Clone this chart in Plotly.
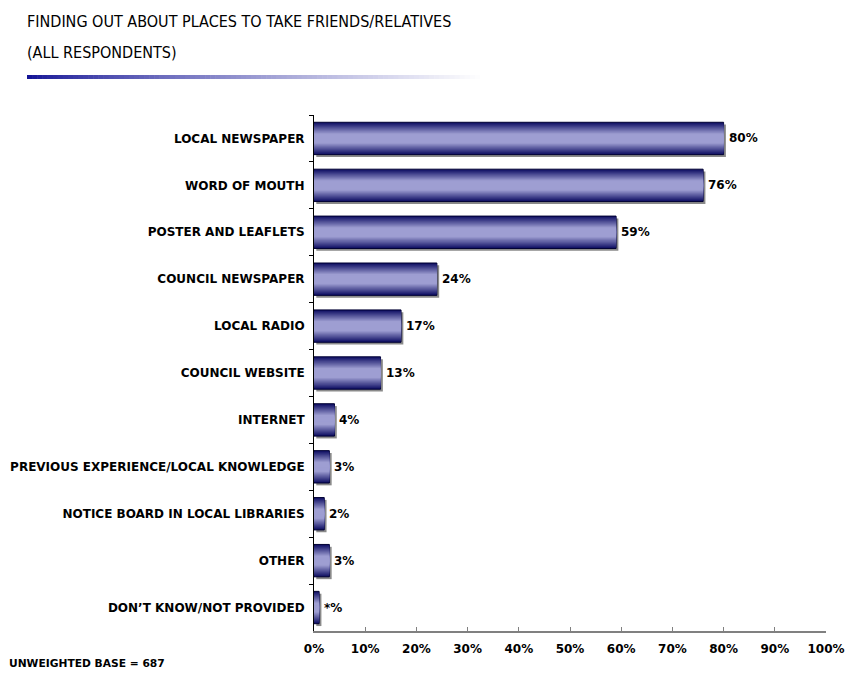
import plotly.graph_objects as go

# Survey answers and their shares (%)
categories = [
    "LOCAL NEWSPAPER",
    "WORD OF MOUTH",
    "POSTER AND LEAFLETS",
    "COUNCIL NEWSPAPER",
    "LOCAL RADIO",
    "COUNCIL WEBSITE",
    "INTERNET",
    "PREVIOUS EXPERIENCE/LOCAL KNOWLEDGE",
    "NOTICE BOARD IN LOCAL LIBRARIES",
    "OTHER",
    "DON\u2019T KNOW/NOT PROVIDED",
]
values = [80, 76, 59, 24, 17, 13, 4, 3, 2, 3, 1]
value_labels = ["80%", "76%", "59%", "24%", "17%", "13%", "4%", "3%", "2%", "3%", "*%"]
x_ticks = [0, 10, 20, 30, 40, 50, 60, 70, 80, 90, 100]
x_tick_text = [f"{v}%" for v in x_ticks]
title_lines = ["FINDING OUT ABOUT PLACES TO TAKE FRIENDS/RELATIVES", "(ALL RESPONDENTS)"]

W, H = 846, 676
ML, MR, MT, MB = 314, 20, 115, 45
PW, PH = W - ML - MR, H - MT - MB

FONT = "DejaVu Sans"
TITLE_FONT = "DejaVu Sans Condensed, Roboto, Liberation Sans"
BAR_W = 0.69


def lerp(c1, c2, t):
    return "rgb(%d,%d,%d)" % tuple(round(a + (b - a) * t) for a, b in zip(c1, c2))


def px_x(px):
    return (px - ML) / PW


def px_y(py):
    return (H - MB - py) / PH


fig = go.Figure()

# drop shadow behind each bar
fig.add_trace(go.Bar(
    y=categories, x=values, base=0.45, orientation="h",
    width=BAR_W, offset=-BAR_W / 2 + 0.05,
    marker=dict(color="#8a8a8a", line=dict(width=0)),
    hoverinfo="skip", showlegend=False,
))

# stacked bands of narrowing width give each bar a vertical gradient
dark = (16, 16, 100)
light = (158, 158, 210)
n_layers = 16
for k in range(n_layers):
    t = k / (n_layers - 1)
    f = min(1.0, t * 1.35)
    w = BAR_W * (1 - k / n_layers)
    is_outer = k == 0
    fig.add_trace(go.Bar(
        y=categories, x=values, orientation="h",
        width=w, offset=-w / 2,
        marker=dict(
            color=lerp(dark, light, f),
            line=dict(width=1 if is_outer else 0, color="#000033"),
        ),
        hoverinfo="skip", showlegend=False,
    ))

# value labels just past the end of each bar
for cat, val, lab in zip(categories, values, value_labels):
    fig.add_annotation(
        x=val, y=cat, xref="x", yref="y",
        xanchor="left", yanchor="middle", xshift=3,
        showarrow=False, text=lab,
        font=dict(family=FONT, size=12, color="black", weight="bold"),
    )

# fading rule under the heading
x0, x1 = 27, 485
steps = 90
for i in range(steps):
    a = x0 + (x1 - x0) * i / steps
    b = x0 + (x1 - x0) * (i + 1) / steps + 0.6
    t = i / (steps - 1)
    fig.add_shape(
        type="rect", xref="paper", yref="paper",
        x0=px_x(a), x1=px_x(b), y0=px_y(79), y1=px_y(75),
        line=dict(width=0),
        fillcolor=lerp((20, 20, 150), (255, 255, 255), t ** 0.8),
        layer="above",
    )

# heading, one annotation per line
for line, cy in zip(title_lines, [22, 52]):
    fig.add_annotation(
        xref="paper", yref="paper", x=px_x(25), y=px_y(cy),
        xanchor="left", yanchor="middle", showarrow=False,
        text=line,
        font=dict(family=TITLE_FONT, size=16, color="black"),
    )

fig.add_annotation(
    xref="paper", yref="paper", x=px_x(7), y=px_y(663),
    xanchor="left", yanchor="middle", showarrow=False,
    text="UNWEIGHTED BASE = 687",
    font=dict(family=FONT, size=10.7, color="black", weight="bold"),
)

fig.update_layout(
    width=W, height=H,
    margin=dict(l=ML, r=MR, t=MT, b=MB, pad=0),
    paper_bgcolor="white", plot_bgcolor="white",
    barmode="overlay",
    xaxis=dict(
        range=[0, 100], tickmode="array", tickvals=x_ticks, ticktext=x_tick_text,
        showgrid=False, zeroline=False, automargin=False,
        showline=True, linecolor="#808080", linewidth=2,
        ticks="inside", ticklen=4, tickcolor="#808080", tickwidth=1,
        ticklabelstandoff=6,
        tickfont=dict(family=FONT, size=12, color="black", weight="bold"),
        fixedrange=True,
    ),
    yaxis=dict(
        type="category", categoryorder="array", categoryarray=categories,
        autorange="reversed", automargin=False,
        showgrid=False, zeroline=False,
        showline=True, linecolor="black", linewidth=1,
        ticks="outside", tickson="boundaries", ticklen=4, tickcolor="black",
        ticklabelstandoff=6,
        tickfont=dict(family=FONT, size=12, color="black", weight="bold"),
        fixedrange=True,
    ),
)

fig.write_html("out.html")
